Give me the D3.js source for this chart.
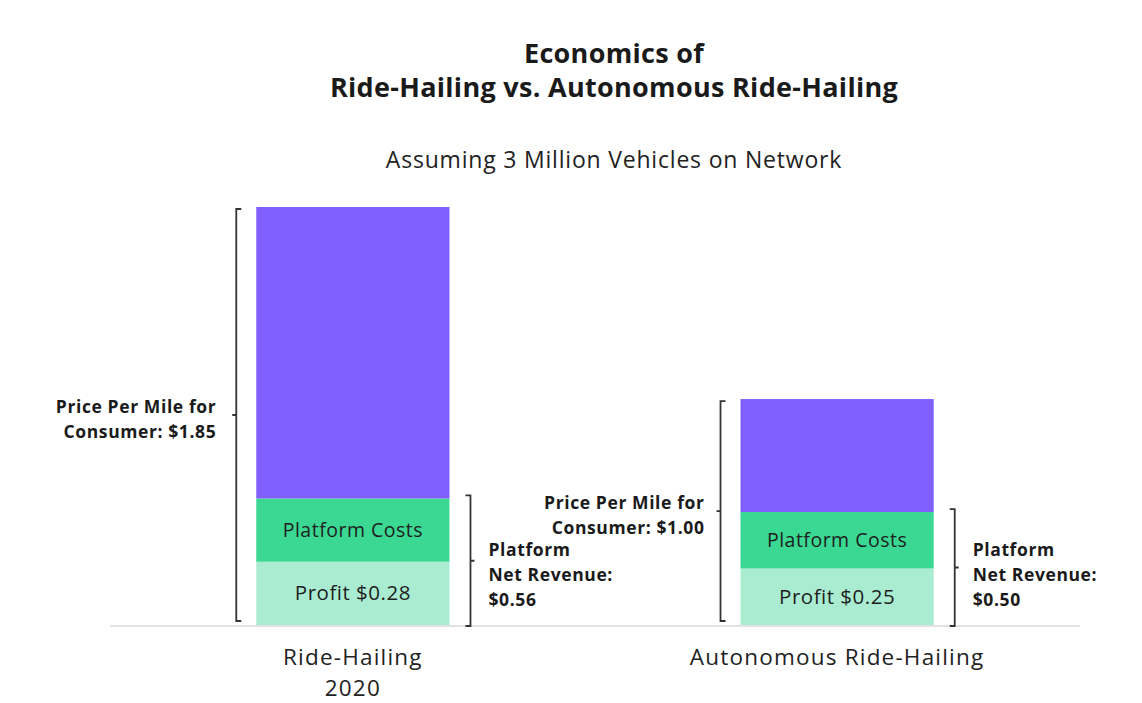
<!DOCTYPE html>
<html><head><meta charset="utf-8">
<script src="https://cdn.jsdelivr.net/npm/d3@7"></script>
<style>
html,body{margin:0;padding:0;background:#fff;}
svg{display:block;font-family:"Open Sans",Lato,sans-serif;}
</style></head>
<body><svg id="c" width="1142" height="703"></svg>
<script>
const categories = ["Ride-Hailing\n2020", "Autonomous Ride-Hailing"];
const profit = [0.28, 0.25];
const platformCosts = [0.28, 0.25];
const totalPrice = [1.85, 1.00];
const segmentNames = ["Profit", "Platform Costs", "Other"];
const priceLabels = ["Price Per Mile for\nConsumer: $1.85", "Price Per Mile for\nConsumer: $1.00"];
const revenueLabels = ["Platform\nNet Revenue:\n$0.56", "Platform\nNet Revenue:\n$0.50"];

const svg = d3.select("#c");
const colors = {"Profit":"#aaecd1","Platform Costs":"#3ad893","Other":"#7f5fff"};

const y = d3.scaleLinear().domain([0, 1.85]).range([625, 207]);
const x = d3.scaleBand().domain(categories).range([111, 1079]).paddingInner(0.601).paddingOuter(0.3);

// title
svg.append("text").attr("x",614).attr("y",63).attr("text-anchor","middle").attr("letter-spacing",0.3)
  .attr("font-size",27).attr("font-weight",700).attr("fill","#1a1a1a").text("Economics of");
svg.append("text").attr("x",614).attr("y",97).attr("text-anchor","middle").attr("letter-spacing",0.3)
  .attr("font-size",27).attr("font-weight",700).attr("fill","#1a1a1a").text("Ride-Hailing vs. Autonomous Ride-Hailing");
svg.append("text").attr("x",614).attr("y",168).attr("text-anchor","middle").attr("letter-spacing",0.8)
  .attr("font-size",23).attr("fill","#222").text("Assuming 3 Million Vehicles on Network");

// baseline
svg.append("line").attr("x1",110).attr("x2",1080).attr("y1",y(0)+1).attr("y2",y(0)+1)
  .attr("stroke","#e2e2e2").attr("stroke-width",2);

// stacked data
const data = categories.map((c,i)=>{
  const segs = [
    {name:"Profit", y0:0, y1:profit[i], label:"Profit $" + profit[i].toFixed(2)},
    {name:"Platform Costs", y0:profit[i], y1:profit[i]+platformCosts[i], label:"Platform Costs"},
    {name:"Other", y0:profit[i]+platformCosts[i], y1:totalPrice[i], label:""}
  ];
  return {c, i, segs};
});

const g = svg.selectAll("g.bar").data(data).join("g").attr("class","bar");
g.selectAll("rect").data(d=>d.segs.map(s=>({...s,c:d.c}))).join("rect")
  .attr("x",d=>x(d.c)).attr("width",x.bandwidth())
  .attr("y",d=>y(d.y1)).attr("height",d=>y(d.y0)-y(d.y1))
  .attr("fill",d=>colors[d.name]);
g.selectAll("text.seg").data(d=>d.segs.filter(s=>s.label).map(s=>({...s,c:d.c}))).join("text")
  .attr("class","seg")
  .attr("x",d=>x(d.c)+x.bandwidth()/2)
  .attr("y",d=>(y(d.y0)+y(d.y1))/2+7)
  .attr("text-anchor","middle").attr("letter-spacing",0.5)
  .attr("font-size",d=>d.name==="Profit"?20.5:19.5)
  .attr("fill","#1e1e1e").text(d=>d.label);

// brackets
function bracket(xp, yTop, yBot, dir){
  const ym = (yTop+yBot)/2;
  const p = d3.path();
  p.moveTo(xp - dir*5, yTop); p.lineTo(xp, yTop); p.lineTo(xp, yBot); p.lineTo(xp - dir*5, yBot);
  p.moveTo(xp, ym); p.lineTo(xp + dir*4, ym);
  svg.append("path").attr("d",p.toString()).attr("fill","none").attr("stroke","#333").attr("stroke-width",1.8);
}
data.forEach((d,i)=>{
  const bx = x(d.c), bw = x.bandwidth();
  bracket(bx-20, y(totalPrice[i])+2, y(0)-4, -1);
  bracket(bx+bw+21, y(profit[i]+platformCosts[i])-3, y(0)+1, 1);
  const pl = priceLabels[i].split("\n");
  const ym = (y(totalPrice[i])+y(0))/2;
  const t = svg.append("text").attr("text-anchor","end").attr("font-size",17.5).attr("letter-spacing",0.6)
    .attr("font-weight",700).attr("fill","#1a1a1a");
  pl.forEach((line,k)=>t.append("tspan").attr("x",bx-40+(i?4:0)).attr("y",ym-3+(k)*25).text(line));
  const rl = revenueLabels[i].split("\n");
  const t2 = svg.append("text").attr("text-anchor","start").attr("font-size",17.5).attr("letter-spacing",0.6)
    .attr("font-weight",700).attr("fill","#1a1a1a");
  rl.forEach((line,k)=>t2.append("tspan").attr("x",bx+bw+39).attr("y",556+k*25).text(line));
  const cl = d.c.split("\n");
  cl.forEach((line,k)=>svg.append("text").attr("text-anchor","middle").attr("font-size",22.5)
    .attr("letter-spacing",1.2).attr("fill","#222")
    .attr("x",bx+bw/2).attr("y",665+k*31).text(line));
});
</script></body></html>
